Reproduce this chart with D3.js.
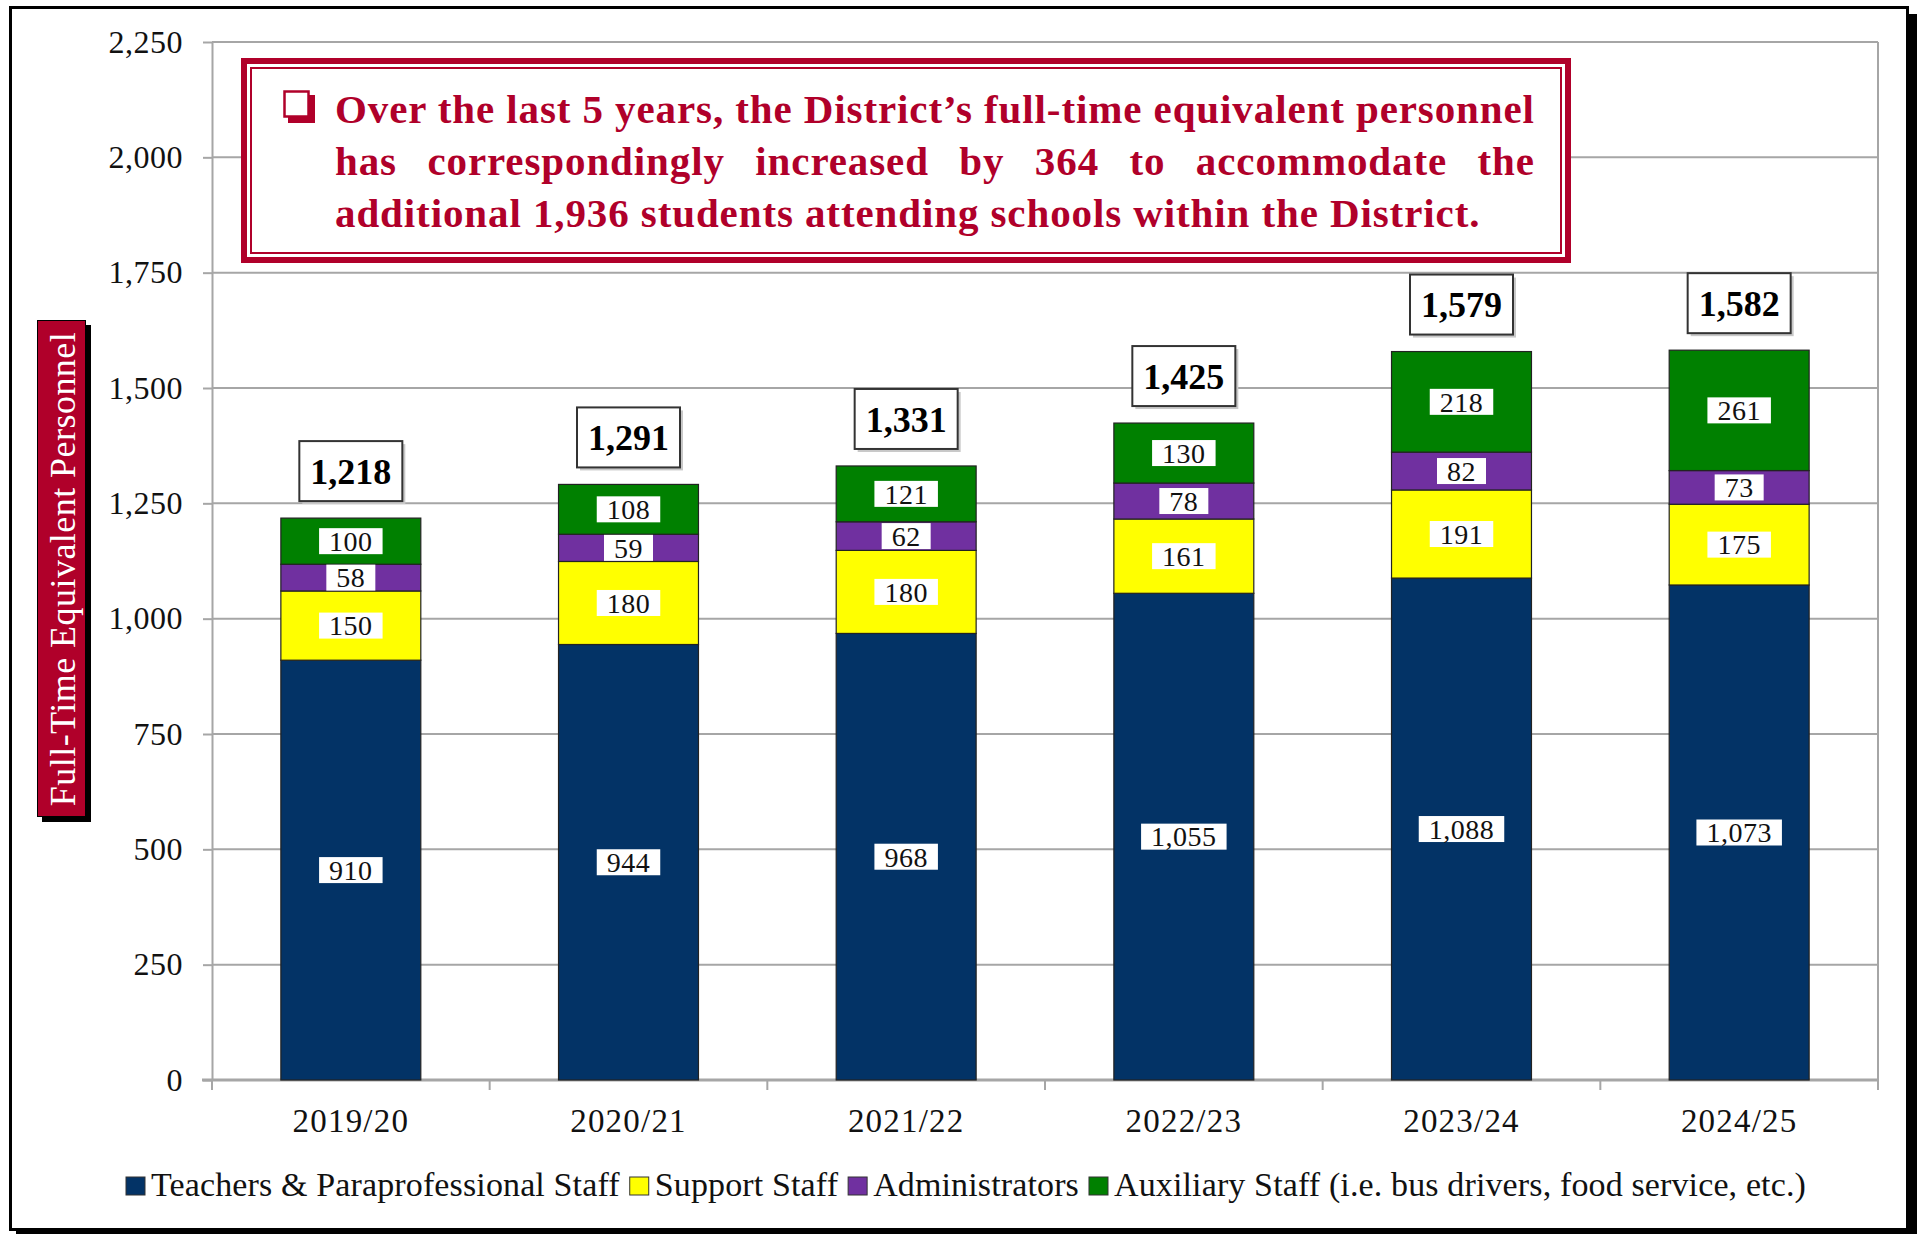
<!DOCTYPE html>
<html>
<head>
<meta charset="utf-8">
<script src="https://cdn.jsdelivr.net/npm/d3@7/dist/d3.min.js"></script>
<style>
  body { margin: 0; background: #fff; }
  svg { display: block; }
  text { font-family: "Liberation Serif", "DejaVu Serif", serif; }
</style>
</head>
<body>
<script>
'use strict';

// chart data
const years = ["2019/20", "2020/21", "2021/22", "2022/23", "2023/24", "2024/25"];
const teachers = [910, 944, 968, 1055, 1088, 1073];
const support = [150, 180, 180, 161, 191, 175];
const admins = [58, 59, 62, 78, 82, 73];
const auxiliary = [100, 108, 121, 130, 218, 261];
const totals = [1218, 1291, 1331, 1425, 1579, 1582];
const yTicks = [0, 250, 500, 750, 1000, 1250, 1500, 1750, 2000, 2250];
const seriesNames = ["Teachers & Paraprofessional Staff", "Support Staff", "Administrators",
  "Auxiliary Staff (i.e. bus drivers, food service, etc.)"];
const seriesColors = ["#033366", "#FFFF00", "#7030A0", "#008000"];
const calloutLines = [
  "Over the last 5 years, the District\u2019s full-time equivalent personnel",
  "has correspondingly increased by 364 to accommodate the",
  "additional 1,936 students attending schools within the District."
];
const yTitle = "Full-Time Equivalent Personnel";

const W = 1917, H = 1234;
const plot = { left: 212, right: 1878, top: 42, bottom: 1080 };
const red = "#B0002A";
const gridColor = "#A6A6A6";

const svg = d3.select("body").append("svg")
  .attr("width", W)
  .attr("height", H);

// outer frame with shadow on right / bottom
svg.append("rect").attr("x", 1906).attr("y", 14).attr("width", 11).attr("height", 1220).attr("fill", "#000");
svg.append("rect").attr("x", 16).attr("y", 1229).attr("width", 1901).attr("height", 5).attr("fill", "#000");
svg.append("rect")
  .attr("x", 10.5).attr("y", 7.5)
  .attr("width", 1897).attr("height", 1222)
  .attr("fill", "#fff").attr("stroke", "#000").attr("stroke-width", 3);

// scales
const x = d3.scaleBand().domain(years).range([plot.left, plot.right]).padding(0);
const y = d3.scaleLinear().domain([0, 2250]).range([plot.bottom, plot.top]);
const barW = x.bandwidth() * 0.504;

// gridlines
svg.append("g").selectAll("line")
  .data(yTicks.filter(d => d > 0))
  .join("line")
  .attr("x1", plot.left).attr("x2", plot.right)
  .attr("y1", d => y(d)).attr("y2", d => y(d))
  .attr("stroke", gridColor).attr("stroke-width", 2);

// right border of plot area
svg.append("line")
  .attr("x1", plot.right).attr("x2", plot.right)
  .attr("y1", y(2250)).attr("y2", y(0))
  .attr("stroke", gridColor).attr("stroke-width", 2);

// y axis
const yAxis = d3.axisLeft(y).tickValues(yTicks).tickFormat(d3.format(",")).tickSize(9).tickSizeOuter(0).tickPadding(20);
const yG = svg.append("g").attr("transform", `translate(${plot.left},0)`).call(yAxis);
yG.select(".domain").attr("stroke", gridColor).attr("stroke-width", 2);
yG.selectAll(".tick line").attr("stroke", gridColor).attr("stroke-width", 2);
yG.selectAll(".tick text")
  .style("font-family", "Liberation Serif, serif")
  .style("font-size", "32px").style("letter-spacing", "0.5px").attr("fill", "#111");

// x axis - labels centered, tick marks between categories
const xAxis = d3.axisBottom(x).tickSize(0).tickPadding(29);
const xG = svg.append("g").attr("transform", `translate(0,${plot.bottom})`).call(xAxis);
xG.select(".domain").remove();
xG.selectAll(".tick text")
  .style("font-family", "Liberation Serif, serif")
  .style("font-size", "33px").style("letter-spacing", "1.2px").attr("fill", "#111");

const boundaries = years.map(d => x(d)).concat([plot.right]);
svg.append("g").selectAll("line")
  .data(boundaries)
  .join("line")
  .attr("x1", d => d).attr("x2", d => d)
  .attr("y1", plot.bottom).attr("y2", plot.bottom + 10)
  .attr("stroke", gridColor).attr("stroke-width", 2);
svg.append("line")
  .attr("x1", plot.left - 10).attr("x2", plot.right)
  .attr("y1", plot.bottom).attr("y2", plot.bottom)
  .attr("stroke", gridColor).attr("stroke-width", 3);

// stacked bars
const rows = years.map((yr, i) => ({
  year: yr, teachers: teachers[i], support: support[i], admins: admins[i], auxiliary: auxiliary[i]
}));
const keys = ["teachers", "support", "admins", "auxiliary"];
const stacked = d3.stack().keys(keys)(rows);

const layers = svg.append("g").selectAll("g")
  .data(stacked)
  .join("g")
  .attr("fill", (d, i) => seriesColors[i]);

layers.selectAll("rect")
  .data(d => d)
  .join("rect")
  .attr("x", d => x(d.data.year) + (x.bandwidth() - barW) / 2)
  .attr("width", barW)
  .attr("y", d => y(d[1]))
  .attr("height", d => y(d[0]) - y(d[1]))
  .attr("stroke", "#222")
  .attr("stroke-width", 1.2);

// segment value labels
const fmt = d3.format(",");
stacked.forEach(layer => {
  layer.forEach(d => {
    const cx = x(d.data.year) + x.bandwidth() / 2;
    const cy = (y(d[0]) + y(d[1])) / 2;
    const g = svg.append("g");
    const t = g.append("text")
      .attr("x", cx).attr("y", cy)
      .attr("text-anchor", "middle")
      .attr("dy", "0.35em")
      .style("font-size", "28px")
      .style("letter-spacing", "0.5px")
      .attr("fill", "#111")
      .text(fmt(d.data[layer.key]));
    const w = t.node().getComputedTextLength();
    g.insert("rect", "text")
      .attr("x", cx - w / 2 - 10).attr("y", cy - 13)
      .attr("width", w + 20).attr("height", 26)
      .attr("fill", "#fff");
  });
});

// total labels in bordered boxes
totals.forEach((tot, i) => {
  const cx = x(years[i]) + x.bandwidth() / 2;
  const top = y(d3.sum(keys, k => rows[i][k]));
  const cy = top - 47;
  const g = svg.append("g");
  const t = g.append("text")
    .attr("x", cx).attr("y", cy)
    .attr("text-anchor", "middle")
    .attr("dy", "0.35em")
    .style("font-size", "36px").style("font-weight", "bold")
    .attr("fill", "#000")
    .text(fmt(tot));
  const w = t.node().getComputedTextLength() + 22;
  g.insert("rect", "text")
    .attr("x", cx - w / 2 + 3).attr("y", cy - 30 + 3)
    .attr("width", w).attr("height", 60)
    .attr("fill", "#c8c8c8");
  g.insert("rect", "text")
    .attr("x", cx - w / 2).attr("y", cy - 30)
    .attr("width", w).attr("height", 60)
    .attr("fill", "#fff").attr("stroke", "#333").attr("stroke-width", 2);
});

// callout box
svg.append("rect")
  .attr("x", 244).attr("y", 61).attr("width", 1324).attr("height", 199)
  .attr("fill", "#fff").attr("stroke", red).attr("stroke-width", 6);
svg.append("rect")
  .attr("x", 251).attr("y", 68).attr("width", 1310).attr("height", 185)
  .attr("fill", "none").attr("stroke", red).attr("stroke-width", 2);

// checkbox bullet (outlined square with drop shadow)
svg.append("rect")
  .attr("x", 288).attr("y", 95).attr("width", 27).attr("height", 28)
  .attr("fill", red);
svg.append("rect")
  .attr("x", 284.5).attr("y", 91.5).attr("width", 24).attr("height", 25)
  .attr("fill", "#fff").attr("stroke", red).attr("stroke-width", 2.5);

// callout text: first line sets letter spacing, line 2 justified by word spacing
const textLeft = 335, textRight = 1534;
const calloutTexts = calloutLines.map((line, i) => svg.append("text")
  .attr("x", textLeft).attr("y", 123 + i * 52)
  .style("font-size", "41px").style("font-weight", "bold")
  .attr("fill", red)
  .text(line));
const first = calloutTexts[0];
const ls = Math.max(0, (textRight - textLeft - first.node().getComputedTextLength()) / (calloutLines[0].length - 1));
calloutTexts.forEach(t => t.style("letter-spacing", ls + "px"));
calloutTexts.forEach((t, i) => {
  if (i < calloutLines.length - 1) {
    const w = t.node().getComputedTextLength() - ls;
    const spaces = calloutLines[i].split(" ").length - 1;
    t.style("word-spacing", Math.max(0, (textRight - textLeft - w) / spaces) + "px");
  }
});

// y axis title box
svg.append("rect").attr("x", 42).attr("y", 325).attr("width", 49).attr("height", 497).attr("fill", "#000");
svg.append("rect")
  .attr("x", 37.5).attr("y", 320.5).attr("width", 48).attr("height", 496)
  .attr("fill", red).attr("stroke", "#000").attr("stroke-width", 1);
const yt = svg.append("text")
  .attr("transform", "translate(62,569) rotate(-90)")
  .attr("text-anchor", "middle")
  .attr("dy", "0.35em")
  .style("font-size", "36px")
  .attr("fill", "#fff")
  .text(yTitle);
const ytLs = (474 - yt.node().getComputedTextLength()) / (yTitle.length - 1);
yt.style("letter-spacing", ytLs + "px");

// legend - spread to reference width
const legendLeft = 126, legendRight = 1806, sw = 19, gapAfterSwatch = 6, gapItem = 10;
const legend = svg.append("g");
const legendTexts = seriesNames.map(name => legend.append("text")
  .attr("y", 1196)
  .style("font-size", "34px")
  .attr("fill", "#111")
  .text(name));
const natural = d3.sum(legendTexts, t => t.node().getComputedTextLength());
const chars = d3.sum(seriesNames, n => n.length);
const fixed = seriesNames.length * (sw + gapAfterSwatch) + (seriesNames.length - 1) * gapItem;
const legLs = (legendRight - legendLeft - fixed - natural) / chars;
let lx = legendLeft;
legendTexts.forEach((t, i) => {
  t.style("letter-spacing", legLs + "px");
  legend.append("rect")
    .attr("x", lx).attr("y", 1177).attr("width", sw).attr("height", 18)
    .attr("fill", seriesColors[i]).attr("stroke", "#333").attr("stroke-width", 1);
  t.attr("x", lx + sw + gapAfterSwatch);
  lx += sw + gapAfterSwatch + t.node().getComputedTextLength() + gapItem;
});
</script>
</body>
</html>
